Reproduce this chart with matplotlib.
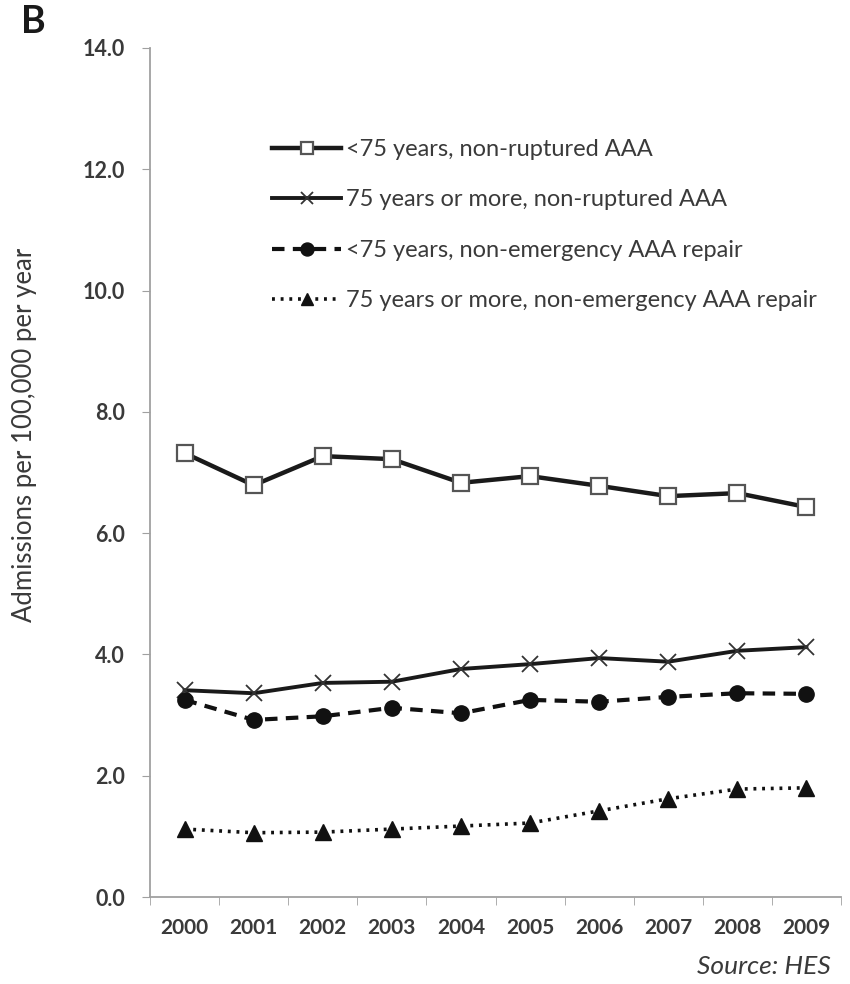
import matplotlib
matplotlib.use("Agg")
import matplotlib.pyplot as plt
import numpy as np

years = ["2000", "2001", "2002", "2003", "2004", "2005", "2006", "2007", "2008", "2009"]
under75_nonruptured = [7.32, 6.79, 7.27, 7.22, 6.83, 6.94, 6.78, 6.61, 6.66, 6.43]
over75_nonruptured = [3.41, 3.36, 3.53, 3.55, 3.76, 3.84, 3.94, 3.88, 4.06, 4.12]
under75_repair = [3.25, 2.92, 2.98, 3.12, 3.03, 3.25, 3.22, 3.30, 3.36, 3.35]
over75_repair = [1.12, 1.06, 1.07, 1.12, 1.17, 1.22, 1.42, 1.62, 1.78, 1.80]
labels = ["<75 years, non-ruptured AAA",
          "75 years or more, non-ruptured AAA",
          "<75 years, non-emergency AAA repair",
          "75 years or more, non-emergency AAA repair"]
yticks = [0, 2, 4, 6, 8, 10, 12, 14]

plt.rcParams['font.family'] = ['Lato', 'DejaVu Sans']
txt = '#3a3a3a'

fig = plt.figure(figsize=(8.5, 9.84), dpi=100)
ax = fig.add_axes([150/850, (984-897)/984, (841-150)/850, (897-48)/984])
x = np.arange(len(years))

ax.plot(x, under75_nonruptured, color='#1a1a1a', lw=3.2, marker='s', ms=11,
        mfc='white', mec='#555555', mew=1.6, label=labels[0])
ax.plot(x, over75_nonruptured, color='#1a1a1a', lw=2.8, marker='x', ms=11,
        mec='#333333', mew=1.3, label=labels[1])
ax.plot(x, under75_repair, color='#111111', lw=3.0, ls=(0, (3, 2)), marker='o', ms=11,
        mfc='#111111', mec='#111111', label=labels[2])
ax.plot(x, over75_repair, color='#111111', lw=2.6, ls=(0, (0.8, 1.6)), marker='^', ms=11,
        mfc='#111111', mec='#111111', label=labels[3])

ax.set_xlim(-0.5, len(years) - 0.5)
ax.set_ylim(0, 14)
ax.set_yticks(yticks)
ax.set_yticklabels([f"{v:.1f}" for v in yticks], fontsize=15.5, color=txt, fontweight='bold')
ax.set_xticks(x)
ax.set_xticklabels(years, fontsize=15, color=txt, fontweight='bold')
ax.set_xticks(np.arange(-0.5, len(years) + 0.5, 1), minor=True)
ax.tick_params(axis='x', which='major', length=0, pad=15)
ax.tick_params(axis='x', which='minor', length=6, color='#a0a0a0', direction='out')
ax.tick_params(axis='y', length=6, color='#a0a0a0', direction='out', pad=12)

for s in ['top', 'right']:
    ax.spines[s].set_visible(False)
for s in ['left', 'bottom']:
    ax.spines[s].set_color('#a0a0a0')
    ax.spines[s].set_linewidth(1.3)

ax.set_ylabel("Admissions per 100,000 per year", fontsize=18.5, color=txt)
ax.yaxis.set_label_coords(-0.163, 0.544)

leg = ax.legend(loc='upper left', bbox_to_anchor=(0.177, 0.893), frameon=False,
                borderaxespad=0, borderpad=0,
                fontsize=17, handlelength=2.9, handletextpad=0.2, labelspacing=1.25,
                markerscale=0.85)
for t in leg.get_texts():
    t.set_color(txt)

fig.text(21/850, 1 - 22/984, "B", fontsize=27, fontweight='bold', color='#1a1a1a',
         va='center', ha='left')
fig.text(831/850, 1 - 967/984, "Source: HES", fontsize=19, style='italic', color=txt,
         ha='right', va='center')

fig.savefig("out.png", dpi=100)
